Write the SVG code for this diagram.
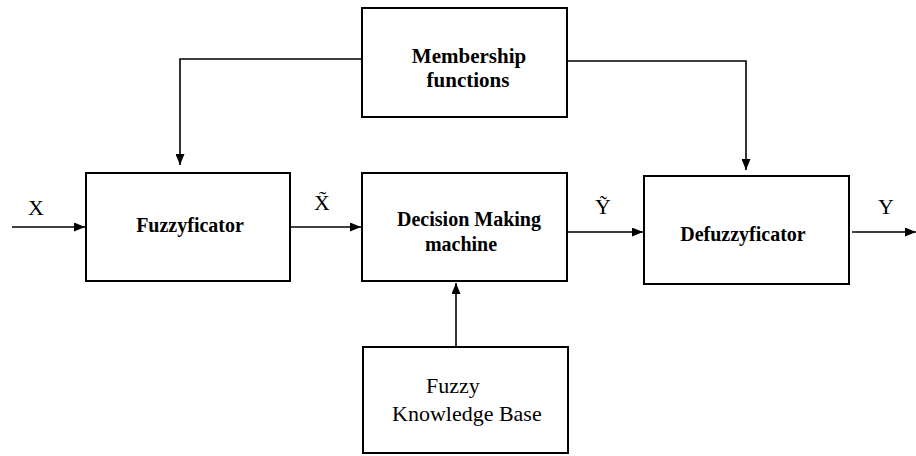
<svg xmlns="http://www.w3.org/2000/svg" width="916" height="456" viewBox="0 0 916 456">
<defs>
<marker id="ah" markerWidth="11" markerHeight="9" refX="11" refY="4.5" orient="auto" markerUnits="userSpaceOnUse">
<path d="M0,0 L11,4.5 L0,9 z" fill="#000"/>
</marker>
<style>
.box{fill:#fff;stroke:#000;stroke-width:2}
.lbl{font-family:"Liberation Serif","Times New Roman",serif;font-size:20px;font-weight:bold;fill:#000;text-anchor:middle}
.mb{font-size:21px}
.reg{font-family:"Liberation Serif","Times New Roman",serif;font-size:22px;fill:#000}
.sym{font-family:"Liberation Serif","Times New Roman",serif;font-size:22px;fill:#000;text-anchor:middle}
.c{fill:none;stroke:#000;stroke-width:1.6}
</style>
</defs>
<rect width="916" height="456" fill="#fff"/>
<g id="connectors">
<polyline class="c" points="362,59 180,59 180,165" marker-end="url(#ah)"/>
<polyline class="c" points="567,61 746,61 746,170" marker-end="url(#ah)"/>
<line class="c" x1="12" y1="227" x2="85" y2="227" marker-end="url(#ah)"/>
<line class="c" x1="290" y1="227" x2="361" y2="227" marker-end="url(#ah)"/>
<line class="c" x1="567" y1="232" x2="643" y2="232" marker-end="url(#ah)"/>
<line class="c" x1="852" y1="232" x2="916" y2="232" marker-end="url(#ah)"/>
<line class="c" x1="456" y1="347" x2="456" y2="283" marker-end="url(#ah)"/>
<text class="sym" x="36" y="215">X</text>
<text class="sym" x="322" y="210">X̃</text>
<text class="sym" x="603" y="214">Ỹ</text>
<text class="sym" x="886" y="214">Y</text>
</g>
<g id="membership">
<rect class="box" x="362" y="8" width="205" height="109"/>
<text class="lbl mb" x="469" y="63">Membership</text>
<text class="lbl mb" x="468" y="87">functions</text>
</g>
<g id="fuzzyficator">
<rect class="box" x="86" y="173" width="204" height="108"/>
<text class="lbl" x="190" y="232">Fuzzyficator</text>
</g>
<g id="decision">
<rect class="box" x="362" y="173" width="205" height="108"/>
<text class="lbl" x="469" y="226">Decision Making</text>
<text class="lbl" x="461" y="251">machine</text>
</g>
<g id="defuzzyficator">
<rect class="box" x="644" y="176" width="205" height="108"/>
<text class="lbl" x="743" y="241">Defuzzyficator</text>
</g>
<g id="knowledge">
<rect class="box" x="363" y="347" width="205" height="106"/>
<text class="reg" x="426" y="393">Fuzzy</text>
<text class="reg" x="392" y="421">Knowledge Base</text>
</g>
</svg>
